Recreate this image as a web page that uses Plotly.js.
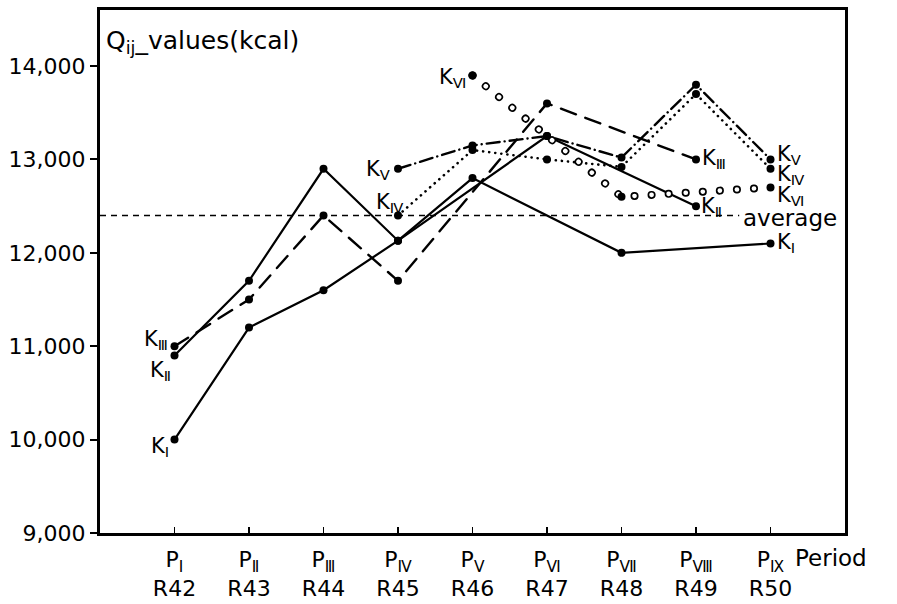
<!DOCTYPE html>
<html><head><meta charset="utf-8">
<script src="https://cdn.plot.ly/plotly-3.0.1.min.js"></script>
<style>
html,body{margin:0;padding:0;background:#fff;}
#chart{width:897px;height:604px;}
.scatterlayer .js-line{stroke-linecap:round;}
</style></head><body><div id="chart"></div>
<script>
// ---- data ----
const periods = [1, 2, 3, 4, 5, 6, 7, 8, 9];
const periodLabels = ['P<sub>Ⅰ</sub>', 'P<sub>Ⅱ</sub>', 'P<sub>Ⅲ</sub>', 'P<sub>Ⅳ</sub>', 'P<sub>Ⅴ</sub>', 'P<sub>Ⅵ</sub>', 'P<sub>Ⅶ</sub>', 'P<sub>Ⅷ</sub>', 'P<sub>Ⅸ</sub>'];
const yearLabels = ['R42', 'R43', 'R44', 'R45', 'R46', 'R47', 'R48', 'R49', 'R50'];
const K1 = [10000, 11200, 11600, 12130, 12800, null, 12000, null, 12100];
const K2 = [10900, 11700, 12900, 12130, null, 13250, null, 12500, null];
const K3 = [11000, 11500, 12400, 11700, null, 13600, null, 13000, null];
const K4 = [null, null, null, 12400, 13100, 13000, 12920, 13700, 12900];
const K5 = [null, null, null, 12900, 13150, 13250, 13020, 13800, 13000];
const K6 = [null, null, null, null, 13900, null, 12600, null, 12700];
const average = 12400;
const yTicks = [9000, 10000, 11000, 12000, 13000, 14000];
const yTickLabels = ['9,000', '10,000', '11,000', '12,000', '13,000', '14,000'];
const seriesNames = ['K<sub>Ⅰ</sub>', 'K<sub>Ⅱ</sub>', 'K<sub>Ⅲ</sub>', 'K<sub>Ⅳ</sub>', 'K<sub>Ⅴ</sub>', 'K<sub>Ⅵ</sub>'];

// ---- traces ----
const FONT = 'DejaVu Sans, sans-serif';
function tr(y, dash, width, mode, color, size) {
  return {
    x: periods, y: y, mode: mode || 'lines+markers', connectgaps: true,
    line: {color: color || '#000', width: width, dash: dash},
    marker: {color: '#000', size: size || 8},
    hoverinfo: 'skip', showlegend: false
  };
}
const traces = [
  tr(K1, 'solid', 2.2),
  tr(K2, 'solid', 2.2),
  tr(K3, '16px,10px', 2.4),
  tr(K4, '0.1px,6px', 2.6),
  tr(K5, '13px,5px,0.1px,5px', 2.4),
  tr(K6, '0.1px,17px', 8, 'lines'),
  tr(K6, '0.1px,17px', 4.6, 'lines', '#fff'),
  tr(K6, 'solid', 0, 'markers')
];

function lab(x, y, text, xanchor, xshift, yshift) {
  return {x: x, y: y, xref: 'x', yref: 'y', text: text, showarrow: false,
    xanchor: xanchor, yanchor: 'middle', xshift: xshift, yshift: yshift,
    font: {family: FONT, size: 21, color: '#000'}};
}
const annotations = [
  lab(1, K1[0], seriesNames[0], 'right', -4, -7),
  lab(1, K2[0], seriesNames[1], 'right', -2, -15),
  lab(1, K3[0], seriesNames[2], 'right', -5, 6),
  lab(4, K5[3], seriesNames[4], 'right', -6, -1),
  lab(4, K4[3], seriesNames[3], 'center', -8, 12),
  lab(5, K6[4], seriesNames[5], 'right', -5, -3),
  lab(8, K3[7], seriesNames[2], 'left', 4, 0),
  lab(8, K2[7], seriesNames[1], 'left', 3, -1),
  lab(9, K5[8], seriesNames[4], 'left', 4, 4),
  lab(9, K4[8], seriesNames[3], 'left', 4, -6),
  lab(9, K6[8], seriesNames[5], 'left', 4, -9),
  lab(9, K1[8], seriesNames[0], 'left', 4, 0),
  lab(8.6, average, 'average', 'left', 0, -3),
  {xref: 'paper', yref: 'paper', x: 0, y: 1, xanchor: 'left', yanchor: 'top', xshift: 4, yshift: -14,
   text: 'Q<sub>ij</sub>_values(kcal)', showarrow: false, font: {family: FONT, size: 25, color: '#000'}},
  {xref: 'x', yref: 'paper', x: 9, y: 0, xanchor: 'left', yanchor: 'middle', xshift: 22, yshift: -25,
   text: 'Period', showarrow: false, font: {family: FONT, size: 23, color: '#000'}}
];
annotations[12].font.size = 23;

const layout = {
  width: 897, height: 604,
  margin: {l: 100, r: 52, t: 10, b: 71},
  paper_bgcolor: '#fff', plot_bgcolor: '#fff',
  font: {family: FONT, color: '#000'},
  xaxis: {
    range: [0, 10], tickvals: periods,
    ticktext: periods.map((p, i) => periodLabels[i] + '<br>' + yearLabels[i]),
    showgrid: false, zeroline: false, showline: true, mirror: true, linewidth: 3, linecolor: '#000',
    ticks: 'inside', ticklen: 6, tickwidth: 1.5, tickcolor: '#000', ticklabelstandoff: 5,
    tickfont: {family: FONT, size: 22, color: '#000'}, fixedrange: true
  },
  yaxis: {
    range: [9000, 14600], tickvals: yTicks, ticktext: yTickLabels,
    showgrid: false, zeroline: false, showline: true, mirror: true, linewidth: 3, linecolor: '#000',
    ticks: 'outside', ticklen: 7, tickwidth: 2, tickcolor: '#000',
    tickfont: {family: FONT, size: 22, color: '#000'}, fixedrange: true
  },
  shapes: [{type: 'line', xref: 'x', yref: 'y', x0: 0, x1: 8.58, y0: average, y1: average,
            line: {color: '#000', width: 1.6, dash: '6px,5px'}}],
  annotations: annotations
};

Plotly.newPlot('chart', traces, layout, {staticPlot: true, displayModeBar: false});
</script></body></html>
